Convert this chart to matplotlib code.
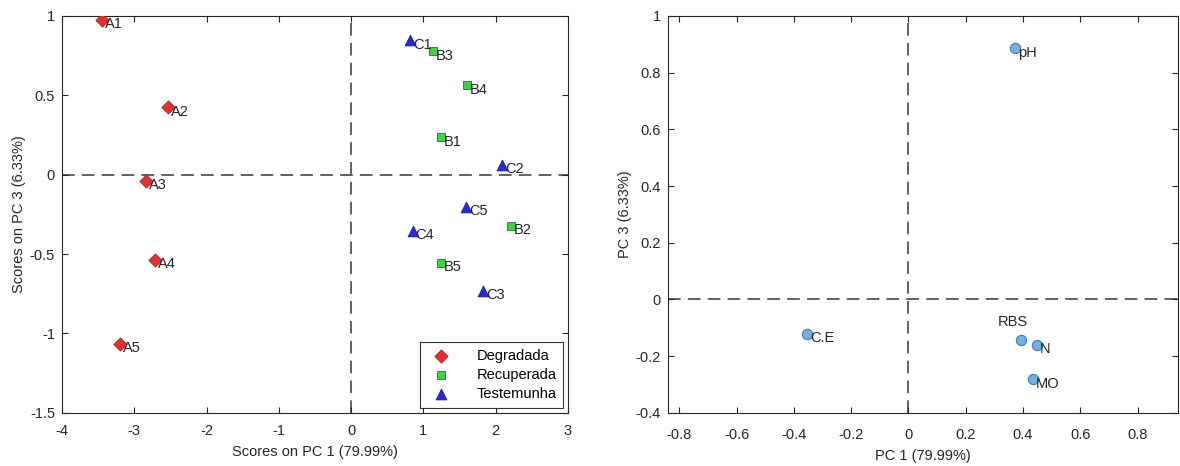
import matplotlib.pyplot as plt

plt.rcParams['font.family'] = ['Liberation Sans', 'DejaVu Sans']
plt.rcParams['font.size'] = 10.5
plt.rcParams['axes.unicode_minus'] = False

# scores (PC1, PC3)
deg_lbl = ['A1', 'A2', 'A3', 'A4', 'A5']
deg_x = [-3.45, -2.53, -2.84, -2.71, -3.19]
deg_y = [0.975, 0.423, -0.042, -0.535, -1.067]

rec_lbl = ['B1', 'B2', 'B3', 'B4', 'B5']
rec_x = [1.24, 2.21, 1.13, 1.61, 1.25]
rec_y = [0.235, -0.325, 0.776, 0.562, -0.556]

tes_lbl = ['C1', 'C2', 'C3', 'C4', 'C5']
tes_x = [0.82, 2.09, 1.83, 0.85, 1.59]
tes_y = [0.845, 0.059, -0.732, -0.356, -0.205]

# loadings
var_lbl = ['pH', 'C.E', 'RBS', 'N', 'MO']
var_x = [0.373, -0.353, 0.392, 0.448, 0.435]
var_y = [0.885, -0.122, -0.143, -0.161, -0.282]

txt = '#262626'
axc = '#262626'


def estilo(ax, xpad=8):
    ax.tick_params(direction='in', top=True, right=True, length=4,
                   colors=axc, labelcolor=txt, labelsize=10.5)
    ax.tick_params(axis='x', pad=xpad)
    ax.tick_params(axis='y', pad=5)
    for s in ax.spines.values():
        s.set_color(axc)
        s.set_linewidth(0.8)
    ax.axhline(0, color='#555555', ls=(0, (7, 4)), lw=1.3, zorder=0)
    ax.axvline(0, color='#555555', ls=(0, (7, 4)), lw=1.3, zorder=0)


fig = plt.figure(figsize=(11.8, 4.66), dpi=100)
ax1 = fig.add_axes([0.0525, 0.114, 0.4288, 0.852])
ax2 = fig.add_axes([0.566, 0.114, 0.432, 0.852])

estilo(ax1, 8)
ax1.scatter(deg_x, deg_y, marker='D', s=45, color='#e03232', edgecolor='#b01e1e',
            lw=0.6, label='Degradada', zorder=3)
ax1.scatter(rec_x, rec_y, marker='s', s=30, color='#44d044', edgecolor='#1e7a1e',
            lw=0.6, label='Recuperada', zorder=3)
ax1.scatter(tes_x, tes_y, marker='^', s=60, color='#2b2bd6', edgecolor='#1a1a9a',
            lw=0.6, label='Testemunha', zorder=3)
for lbls, xs, ys in [(deg_lbl, deg_x, deg_y), (rec_lbl, rec_x, rec_y), (tes_lbl, tes_x, tes_y)]:
    for l, x, y in zip(lbls, xs, ys):
        ax1.annotate(l, (x, y), xytext=(2, -3), textcoords='offset points',
                     ha='left', va='center', fontsize=10.5, color=txt)
ax1.set_xlim(-4, 3)
ax1.set_ylim(-1.5, 1)
ax1.set_xticks(range(-4, 4))
ax1.set_yticks([-1.5, -1, -0.5, 0, 0.5, 1])
ax1.set_yticklabels(['-1.5', '-1', '-0.5', '0', '0.5', '1'])
ax1.set_xlabel('Scores on PC 1 (79.99%)', color=txt, fontsize=10.5, labelpad=5)
ax1.set_ylabel('Scores on PC 3 (6.33%)', color=txt, fontsize=10.5, labelpad=3)
leg = ax1.legend(loc='lower right', fontsize=10.5, frameon=True, fancybox=False,
                 edgecolor='black', borderaxespad=0.35, handletextpad=1.4,
                 labelspacing=0.35, borderpad=0.45)
leg.get_frame().set_linewidth(0.8)

estilo(ax2, 11)
ax2.scatter(var_x, var_y, marker='o', s=55, color='#72b2e2', edgecolor='#3e7cb2',
            lw=0.8, zorder=3)
for l, x, y in zip(var_lbl, var_x, var_y):
    if l == 'RBS':
        ax2.annotate(l, (x, y), xytext=(-6, 8), textcoords='offset points',
                     ha='center', va='bottom', fontsize=10.5, color=txt)
    else:
        ax2.annotate(l, (x, y), xytext=(2, -3), textcoords='offset points',
                     ha='left', va='center', fontsize=10.5, color=txt)
ax2.set_xlim(-0.84, 0.94)
ax2.set_ylim(-0.4, 1)
ax2.set_xticks([-0.8, -0.6, -0.4, -0.2, 0, 0.2, 0.4, 0.6, 0.8])
ax2.set_xticklabels(['-0.8', '-0.6', '-0.4', '-0.2', '0', '0.2', '0.4', '0.6', '0.8'])
ax2.set_yticks([-0.4, -0.2, 0, 0.2, 0.4, 0.6, 0.8, 1])
ax2.set_yticklabels(['-0.4', '-0.2', '0', '0.2', '0.4', '0.6', '0.8', '1'])
ax2.set_xlabel('PC 1 (79.99%)', color=txt, fontsize=10.5, labelpad=5)
ax2.set_ylabel('PC 3 (6.33%)', color=txt, fontsize=10.5, labelpad=3)

fig.savefig('out.png', dpi=100)
